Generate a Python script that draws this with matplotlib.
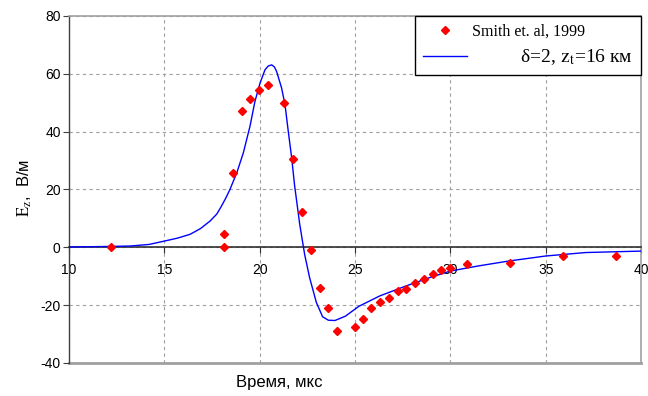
import matplotlib
matplotlib.use('Agg')
import matplotlib.pyplot as plt
from matplotlib.lines import Line2D

plt.rcParams['mathtext.fontset'] = 'stix'
plt.rcParams['axes.unicode_minus'] = False

# Smith et al., 1999 measurements
obs_t = [12.2, 18.13, 18.13, 18.6, 19.07, 19.48, 19.95, 20.42, 21.29, 21.76, 22.23, 22.7,
         23.18, 23.58, 24.05, 25.0, 25.44, 25.86, 26.33, 26.8, 27.24, 27.7, 28.15, 28.6,
         29.07, 29.53, 30.0, 30.87, 33.14, 35.9, 38.67]
obs_e = [0.0, 4.5, 0.1, 25.8, 47.0, 51.3, 54.4, 56.3, 49.8, 30.6, 12.3, -1.0,
         -14.1, -21.1, -29.0, -27.7, -24.9, -21.1, -18.9, -17.4, -15.2, -14.3, -12.5, -11.0,
         -9.1, -7.9, -7.0, -5.6, -5.3, -3.0, -3.0]

# model curve, delta=2, z_t=16 km
mod_t = [10, 11, 12, 13.2, 14.2, 15.03, 15.7, 16.35, 16.9, 17.4, 17.75, 18.0, 18.22, 18.44,
         18.8, 19.14, 19.49, 19.75, 20.02, 20.28, 20.45, 20.63, 20.77, 20.89, 21.15, 21.33,
         21.5, 21.68, 21.83, 22.1, 22.36, 22.62, 22.97, 23.3, 23.6, 23.95, 24.5, 25.2,
         26.3, 27.7, 28.9, 30, 31.5, 33.1, 35, 37.1, 40]
mod_e = [0.1, 0.2, 0.3, 0.45, 1.0, 2.2, 3.2, 4.5, 6.5, 9.1, 11.5, 14.3, 17.0, 20.0,
         25.8, 32.6, 41.8, 50.4, 56.8, 61.4, 62.7, 63.1, 62.4, 60.8, 55.1, 49.3,
         40.1, 30.9, 21.5, 8.0, -2.5, -10.5, -19.0, -24.0, -25.2, -25.3, -23.8, -20.4,
         -16.8, -13.3, -10.5, -8.2, -6.4, -4.7, -3.0, -1.8, -1.3]

fig = plt.figure(figsize=(6.48, 3.96), dpi=100)
ax = fig.add_axes([69/648, 1 - 363/396, 572/648, 347/396])

ax.plot(mod_t, mod_e, color='#0000ff', lw=1.0, zorder=3)
ax.plot(obs_t, obs_e, 'D', color='#ff0000', ms=4.5, mec='#ff0000', zorder=4, clip_on=False)

ax.set_xlim(10, 40)
ax.set_ylim(-40, 80)
ax.set_xticks([10, 15, 20, 25, 30, 35, 40])
ax.set_yticks([-40, -20, 0, 20, 40, 60, 80])
ax.grid(True, color='#a0a0a0', ls=(0, (3, 3)), lw=0.8)

ax.spines['bottom'].set_position(('data', 0))
ax.spines['bottom'].set_color('#303030')
ax.spines['bottom'].set_linewidth(1.2)
ax.spines['left'].set_color('#404040')
ax.spines['left'].set_linewidth(1.0)
for s in ['top', 'right']:
    ax.spines[s].set_color('#a0a0a0')
    ax.spines[s].set_linewidth(1.2)
ax.axhline(-40, color='#a0a0a0', lw=2.0, clip_on=False, zorder=1)

ax.tick_params(axis='x', direction='out', length=4, color='#303030', labelsize=10, pad=7)
ax.tick_params(axis='y', direction='out', length=4, color='#404040', labelsize=10, pad=2)
for lab in ax.get_xticklabels() + ax.get_yticklabels():
    lab.set_family('Liberation Sans')

fig.text(279/648, 1 - 383/396, 'Время, мкс', ha='center', va='center',
         fontsize=12, family='Liberation Sans')
fig.text(25/648, 1 - 188/396, r'$\mathrm{E_z}$,  В/м', rotation=90, ha='center', va='center',
         fontsize=12, family='Liberation Sans')

handles = [Line2D([], [], ls='none', marker='D', color='#ff0000', ms=4.5),
           Line2D([], [], color='#0000ff', lw=1.0)]
labels = ['Smith et. al, 1999', r'          δ=2, $\mathrm{z_t}$=16 км']
leg = ax.legend(handles, labels, loc='upper right', bbox_to_anchor=(1.0, 1.0),
                prop={'family': 'Liberation Serif', 'size': 11.5}, frameon=True,
                fancybox=False, edgecolor='black', framealpha=1, borderpad=0.5,
                labelspacing=0.45, handlelength=2.8, handletextpad=0.3, borderaxespad=0)
leg.get_texts()[1].set_fontsize(14)
leg.get_frame().set_linewidth(1.0)

fig.savefig('out.png', dpi=100)
